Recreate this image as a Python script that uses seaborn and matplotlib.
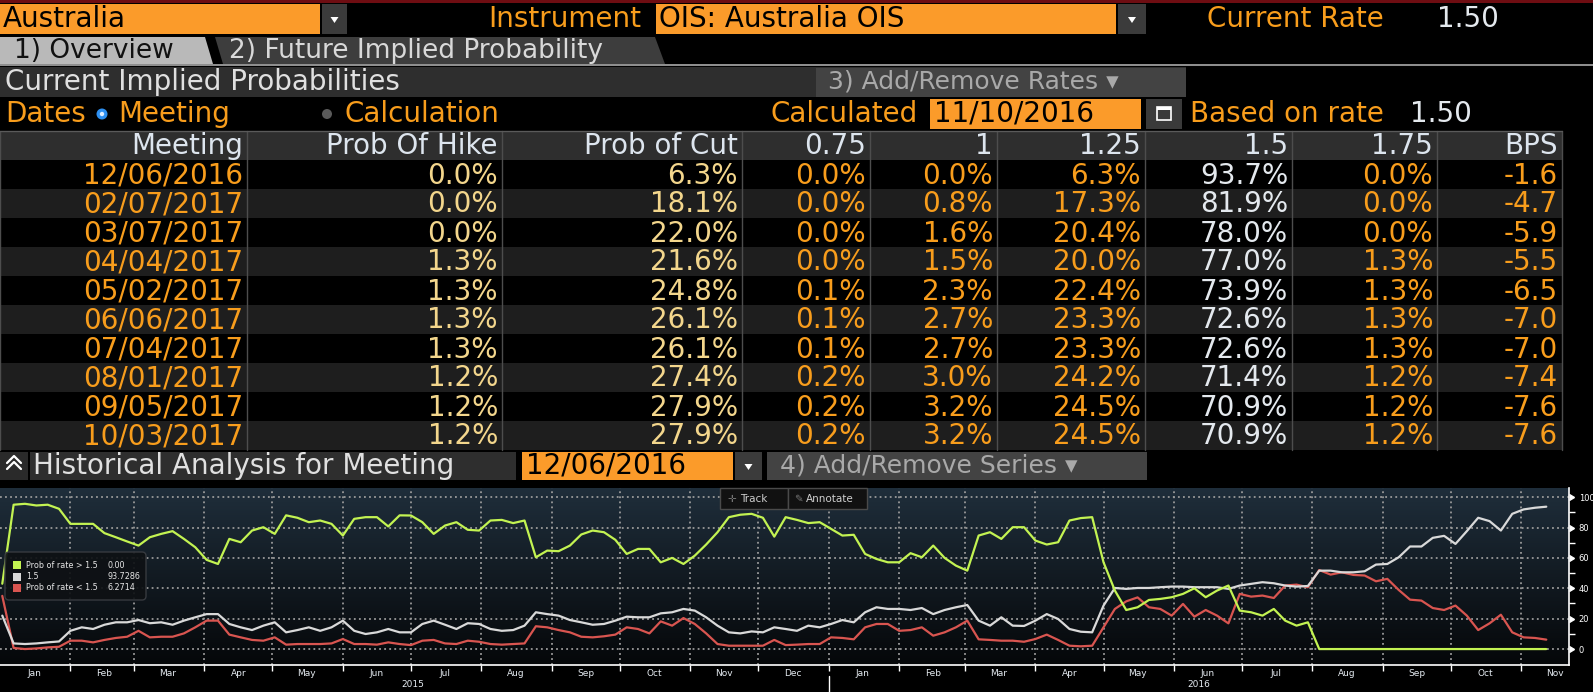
"""Bloomberg WIRP style screen: RBA implied probabilities + history chart."""
import numpy as np
import pandas as pd
import seaborn as sns
import matplotlib.pyplot as plt
from matplotlib.patches import Rectangle, Polygon, FancyBboxPatch, Circle
from matplotlib.transforms import blended_transform_factory
from matplotlib.colors import LinearSegmentedColormap

# ---------------------------------------------------------------- table data
meetings = ["12/06/2016", "02/07/2017", "03/07/2017", "04/04/2017", "05/02/2017",
            "06/06/2017", "07/04/2017", "08/01/2017", "09/05/2017", "10/03/2017"]
prob_hike = [0.0, 0.0, 0.0, 1.3, 1.3, 1.3, 1.3, 1.2, 1.2, 1.2]
prob_cut = [6.3, 18.1, 22.0, 21.6, 24.8, 26.1, 26.1, 27.4, 27.9, 27.9]
rate_075 = [0.0, 0.0, 0.0, 0.0, 0.1, 0.1, 0.1, 0.2, 0.2, 0.2]
rate_100 = [0.0, 0.8, 1.6, 1.5, 2.3, 2.7, 2.7, 3.0, 3.2, 3.2]
rate_125 = [6.3, 17.3, 20.4, 20.0, 22.4, 23.3, 23.3, 24.2, 24.5, 24.5]
rate_150 = [93.7, 81.9, 78.0, 77.0, 73.9, 72.6, 72.6, 71.4, 70.9, 70.9]
rate_175 = [0.0, 0.0, 0.0, 1.3, 1.3, 1.3, 1.3, 1.2, 1.2, 1.2]
bps = [-1.6, -4.7, -5.9, -5.5, -6.5, -7.0, -7.0, -7.4, -7.6, -7.6]
col_names = ["Meeting", "Prob Of Hike", "Prob of Cut", "0.75", "1", "1.25", "1.5", "1.75", "BPS"]

# ---------------------------------------------------------------- history data (every 5 days)
dates = pd.date_range("2015-01-02", periods=137, freq="5D")
prob_above = [43, 95.0, 95.6, 94.5, 95.0, 92.3, 82.4, 82.4, 82.4, 76.3,
              73.6, 70.8, 68.1, 73.6, 75.8, 77.6, 72.5, 67.0, 58.7, 56.0,
              72.5, 70.3, 78.0, 80.2, 75.8, 88.0, 86.4, 83.5, 84.6, 82.4,
              74.7, 85.7, 86.8, 86.8, 80.7, 88.0, 87.9, 83.5, 75.8, 81.3,
              83.5, 78.5, 78.0, 84.6, 85.0, 82.9, 84.6, 60.4, 64.8, 64.4,
              68.1, 75.4, 78.0, 76.9, 71.9, 62.6, 65.9, 65.9, 57.1, 60.0,
              56.0, 61.5, 68.8, 76.9, 86.8, 88.4, 89.0, 86.4, 74.0, 86.8,
              85.0, 82.9, 83.5, 79.1, 74.7, 75.2, 62.6, 59.3, 57.1, 57.1,
              63.1, 60.4, 68.1, 60.0, 54.9, 51.6, 74.7, 76.9, 72.5, 80.2,
              80.2, 71.4, 68.8, 70.3, 84.6, 86.2, 86.8, 57.1, 38.5, 25.7,
              27.5, 32.3, 33.0, 34.1, 36.3, 40.0, 34.1, 38.5, 41.8, 25.3,
              24.2, 22.0, 26.4, 18.7, 15.4, 17.6, 0, 0, 0, 0,
              0, 0, 0, 0, 0, 0, 0, 0, 0, 0,
              0, 0, 0, 0, 0, 0, 0]
prob_at = [22, 3.7, 3.3, 3.7, 4.4, 5.0, 12.0, 14.3, 13.2, 16.0,
           17.6, 17.6, 19.1, 17.0, 17.6, 16.0, 18.7, 20.9, 23.0, 23.0,
           16.5, 14.3, 12.5, 15.4, 17.6, 11.0, 12.5, 14.3, 12.0, 14.3,
           18.7, 12.0, 9.9, 11.0, 13.2, 11.0, 11.0, 16.5, 18.7, 16.0,
           13.2, 17.0, 16.5, 13.2, 12.0, 12.5, 15.4, 24.2, 23.0, 22.0,
           19.1, 17.6, 16.0, 16.5, 18.7, 21.3, 20.9, 20.9, 23.5, 24.2,
           26.4, 25.3, 20.9, 15.4, 11.0, 10.3, 11.6, 11.0, 14.3, 13.2,
           12.0, 15.4, 14.3, 16.5, 19.1, 17.6, 24.2, 27.5, 26.4, 26.4,
           25.7, 27.0, 23.0, 25.7, 27.5, 29.0, 18.7, 15.4, 20.9, 15.4,
           15.2, 18.7, 23.0, 19.8, 13.2, 11.4, 11.0, 28.6, 40.2, 39.6,
           40.2, 40.2, 40.7, 41.1, 41.1, 40.7, 40.7, 40.7, 39.6, 41.8,
           42.9, 44.0, 43.3, 41.8, 41.1, 41.5, 51.6, 51.6, 50.5, 50.5,
           51.2, 55.6, 56.0, 60.4, 67.5, 67.5, 73.2, 74.5, 69.2, 77.6,
           86.4, 84.2, 78.0, 89.0, 91.9, 93.0, 93.7]
prob_below = [35, 0.7, 0.0, 0.4, 1.1, 1.5, 5.5, 5.5, 4.4, 6.0,
              7.3, 8.1, 12.0, 7.7, 8.1, 8.1, 10.3, 14.3, 18.7, 18.7,
              9.5, 7.7, 6.0, 5.5, 7.7, 2.9, 3.3, 3.3, 3.3, 3.7,
              6.6, 3.3, 3.3, 2.9, 4.4, 3.3, 2.6, 5.5, 6.0, 3.7,
              3.3, 5.5, 4.8, 3.3, 2.9, 3.3, 3.7, 15.0, 14.3, 12.5,
              11.0, 8.1, 7.7, 8.4, 9.5, 14.3, 13.2, 10.3, 18.2, 15.4,
              20.4, 16.5, 10.3, 3.3, 2.2, 2.2, 2.2, 2.2, 6.0, 2.6,
              2.9, 3.3, 3.3, 7.7, 7.3, 6.4, 14.3, 16.5, 16.5, 12.0,
              12.5, 14.3, 8.8, 11.0, 14.3, 18.7, 6.4, 6.0, 5.5, 5.5,
              4.8, 6.6, 9.5, 6.0, 2.2, 1.8, 2.2, 14.3, 26.4, 31.4,
              34.0, 27.5, 26.4, 22.0, 29.7, 21.3, 25.7, 22.0, 16.9, 36.3,
              34.5, 35.2, 33.6, 41.8, 42.4, 40.7, 52.0, 49.0, 50.5, 48.8,
              48.4, 44.6, 46.2, 38.9, 32.5, 31.9, 27.0, 25.7, 28.6, 22.0,
              12.5, 16.9, 22.6, 11.0, 7.7, 7.3, 6.2]
series_names = ["Prob of rate > 1.5", "1.5", "Prob of rate < 1.5"]
legend_values = ["0.00", "93.7286", "6.2714"]

# ---------------------------------------------------------------- colours
ORANGE_BOX = "#fb9b2a"
AMBER = "#f89d1c"
CREAM = "#f3d68c"
LIGHT = "#e4e9ee"
GREY_BAR = "#2e2e2e"
BUTTON = "#434343"
palette = {"Prob of rate > 1.5": "#c3f352", "1.5": "#d9d9d9", "Prob of rate < 1.5": "#d95550"}

sns.set_theme(style="dark")
plt.rcParams["font.family"] = ["DejaVu Sans"]
plt.rcParams["patch.edgecolor"] = "none"

W, H = 1593, 692
fig = plt.figure(figsize=(W / 100, H / 100), dpi=100, facecolor="black")

scr = fig.add_axes([0, 0, 1, 1])
scr.set_xlim(0, W)
scr.set_ylim(H, 0)
scr.axis("off")


def box(ax, x0, y0, x1, y1, fc, ec="none", lw=0, z=1):
    ax.add_patch(Rectangle((x0, y0), x1 - x0, y1 - y0, facecolor=fc, edgecolor=ec, linewidth=lw, zorder=z))


def label(ax, x, y, s, color, size=20, ha="left", z=3):
    ax.text(x, y, s, color=color, fontsize=size, ha=ha, va="center", zorder=z)


def dropdown(ax, x0, y0, x1, y1):
    box(ax, x0, y0, x1, y1, "#3b3b3b")
    cx, cy = (x0 + x1) / 2, (y0 + y1) / 2
    ax.add_patch(Polygon([(cx - 4, cy - 2), (cx + 4, cy - 2), (cx, cy + 4)],
                         facecolor="white", edgecolor="none", zorder=2))


# --- row 1
box(scr, 0, 0, W, 3, "#6e0d12")
box(scr, 0, 4, 320, 34, ORANGE_BOX)
label(scr, 3, 19, "Australia", "black")
dropdown(scr, 322, 4, 347, 34)
label(scr, 641, 19, "Instrument", AMBER, ha="right")
box(scr, 656, 4, 1116, 34, ORANGE_BOX)
label(scr, 659, 19, "OIS: Australia OIS", "black")
dropdown(scr, 1118, 4, 1146, 34)
label(scr, 1207, 19, "Current Rate", AMBER)
label(scr, 1437, 19, "1.50", LIGHT)

# --- tabs
scr.add_patch(Polygon([(0, 37), (205, 37), (213, 64), (0, 64)], facecolor="#b9b9b9",
                      edgecolor="none", zorder=1))
label(scr, 14, 51, "1) Overview", "#111111", size=19)
scr.add_patch(Polygon([(215, 37), (655, 37), (665, 64), (223, 64)], facecolor="#3d3d3d",
                      edgecolor="none", zorder=1))
label(scr, 229, 51, "2) Future Implied Probability", "#d9d9d9", size=19)
box(scr, 0, 64, W, 66, "#8e8e8e")

# --- section bar
box(scr, 0, 67, 1186, 97, GREY_BAR)
label(scr, 5, 82, "Current Implied Probabilities", "#e0e0e0")
box(scr, 816, 68, 1186, 97, BUTTON, z=2)
label(scr, 828, 82, "3) Add/Remove Rates \u25be", "#a9a9a9", size=18)

# --- dates row
label(scr, 5, 114, "Dates", AMBER)
scr.add_patch(Circle((102, 114), 5.5, facecolor="#2d8ff0", edgecolor="none", zorder=2))
scr.add_patch(Circle((102, 114), 2.2, facecolor="#dfeeff", edgecolor="none", zorder=3))
label(scr, 118, 114, "Meeting", AMBER)
scr.add_patch(Circle((327, 114), 5, facecolor="#5a5a5a", edgecolor="none", zorder=2))
label(scr, 345, 114, "Calculation", AMBER)
label(scr, 918, 114, "Calculated", AMBER, ha="right")
box(scr, 930, 99, 1141, 129, ORANGE_BOX)
label(scr, 934, 114, "11/10/2016", "black")
box(scr, 1146, 99, 1182, 129, "#3a3a3a")
box(scr, 1157, 107, 1171, 120, "none", ec="white", lw=1.2, z=3)
box(scr, 1157, 107, 1171, 110, "white", z=3)
label(scr, 1190, 114, "Based on rate", AMBER)
label(scr, 1410, 114, "1.50", LIGHT)

# --- table
edges = [0, 247, 502, 742, 870, 997, 1145, 1292, 1437, 1562]
row_h = 29
top = 160
box(scr, 0, 131, edges[-1], top, GREY_BAR)
for i in range(len(meetings)):
    box(scr, 0, top + i * row_h, edges[-1], top + (i + 1) * row_h, "black" if i % 2 == 0 else "#1e1e1e")
for x in edges:
    scr.plot([x, x], [131, top + len(meetings) * row_h], color="#4d4d4d", lw=1, zorder=2)
scr.plot([0, edges[-1]], [131, 131], color="#5a5a5a", lw=1, zorder=2)
for j, name in enumerate(col_names):
    label(scr, edges[j + 1] - 4, 146, name, "#dde5ee", ha="right")

columns = [
    (meetings, AMBER, "{}"),
    (prob_hike, CREAM, "{:.1f}%"),
    (prob_cut, CREAM, "{:.1f}%"),
    (rate_075, AMBER, "{:.1f}%"),
    (rate_100, AMBER, "{:.1f}%"),
    (rate_125, AMBER, "{:.1f}%"),
    (rate_150, LIGHT, "{:.1f}%"),
    (rate_175, AMBER, "{:.1f}%"),
    (bps, AMBER, "{:.1f}"),
]
for j, (vals, color, fmt) in enumerate(columns):
    for i, v in enumerate(vals):
        label(scr, edges[j + 1] - 4, top + i * row_h + row_h / 2 + 1, fmt.format(v), color, ha="right")

# --- historical analysis bar
box(scr, 0, 452, 28, 480, "#2a2a2a")
for dy in (0, 6):
    scr.plot([7, 14, 21], [469 - dy, 462 - dy, 469 - dy], color="white", lw=1.6, zorder=3)
box(scr, 30, 452, 516, 480, GREY_BAR)
label(scr, 33, 466, "Historical Analysis for Meeting", "#e0e0e0")
box(scr, 522, 452, 733, 480, ORANGE_BOX)
label(scr, 526, 466, "12/06/2016", "black")
dropdown(scr, 735, 452, 762, 480)
box(scr, 767, 452, 1147, 480, BUTTON)
label(scr, 780, 466, "4) Add/Remove Series \u25be", "#a9a9a9", size=18)

# ---------------------------------------------------------------- chart
ax = fig.add_axes([0, 27 / H, 1569 / W, 177 / H])
grad = np.linspace(0, 1, 256).reshape(-1, 1)
bg = LinearSegmentedColormap.from_list("bg", ["#050709", "#1f2e3b"])
ax.imshow(grad, extent=[0, 1, 0, 1], transform=ax.transAxes, origin="lower",
          cmap=bg, aspect="auto", zorder=-1)

hist = pd.DataFrame({"date": dates, series_names[0]: prob_above,
                     series_names[1]: prob_at, series_names[2]: prob_below})
long = hist.melt("date", var_name="series", value_name="prob")
sns.lineplot(data=long, x="date", y="prob", hue="series", hue_order=series_names[::-1],
             palette=palette, linewidth=1.6, legend=False, ax=ax, zorder=3)

ax.set_xlim(pd.Timestamp("2015-01-01"), pd.Timestamp("2016-11-22"))
ax.set_ylim(-10.5, 106)
ax.set_xlabel("")
ax.set_ylabel("")
ax.set_facecolor("black")
for side in ("top", "left"):
    ax.spines[side].set_visible(False)
for side in ("bottom", "right"):
    ax.spines[side].set_visible(True)
    ax.spines[side].set_color("white")
    ax.spines[side].set_linewidth(1.2)

month_starts = pd.date_range("2015-02-01", "2016-11-01", freq="MS")
month_mids = pd.date_range("2015-01-01", "2016-11-01", freq="MS") + pd.Timedelta(days=15)
ax.set_xticks(month_starts)
ax.set_xticklabels([])
ax.set_xticks(month_mids, labels=[d.strftime("%b") for d in month_mids], minor=True)
ax.tick_params(axis="x", which="major", length=4, width=1, color="white", direction="out", bottom=True)
ax.tick_params(axis="x", which="minor", length=0, pad=3, labelsize=6.5, labelcolor="#e6ecf2")

ax.yaxis.tick_right()
ax.set_yticks([0, 20, 40, 60, 80, 100])
ax.set_yticks([10, 30, 50, 70, 90], minor=True)
ax.tick_params(axis="y", which="major", length=0, pad=7, labelsize=6, labelcolor="white", right=True)
ax.tick_params(axis="y", which="minor", length=4, width=1, color="white", direction="out", right=True)
ytr = blended_transform_factory(ax.transAxes, ax.transData)
ax.plot([1] * 6, [0, 20, 40, 60, 80, 100], transform=ytr, marker=9, markersize=5,
        color="white", linestyle="none", clip_on=False)

ax.grid(True, which="major", color="#9a9a9a", linestyle=(0, (1, 1.8)), linewidth=1.3)
ax.set_axisbelow(True)

xtr = blended_transform_factory(ax.transData, ax.transAxes)
ax.text(pd.Timestamp("2015-07-02"), -0.11, "2015", transform=xtr, ha="center", va="center",
        fontsize=6.5, color="#e6ecf2")
ax.text(pd.Timestamp("2016-06-12"), -0.11, "2016", transform=xtr, ha="center", va="center",
        fontsize=6.5, color="#e6ecf2")
ax.plot([pd.Timestamp("2016-01-01")] * 2, [-0.06, -0.16], transform=xtr, color="white",
        lw=1, clip_on=False)

# ---------------------------------------------------------------- overlay: legend + toolbar
ov = fig.add_axes([0, 0, 1, 1])
ov.set_xlim(0, W)
ov.set_ylim(H, 0)
ov.axis("off")
ov.patch.set_alpha(0)

ov.add_patch(FancyBboxPatch((5, 552), 141, 48, boxstyle="round,pad=0,rounding_size=4",
                            facecolor="#0e1114", edgecolor="#3a3d42", linewidth=1, alpha=0.92))
for i, (name, val) in enumerate(zip(series_names, legend_values)):
    y = 565 + i * 11.5
    ov.add_patch(Rectangle((13, y - 4), 8, 8, facecolor=palette[name], edgecolor="none"))
    ov.text(26, y, name, color="#e6e6e6", fontsize=5.8, va="center")
    ov.text(107, y, val, color="#e6e6e6", fontsize=5.8, va="center")

ov.add_patch(Rectangle((720, 488), 68, 21, facecolor="#111111", edgecolor="#4a4a4a", linewidth=1))
ov.add_patch(Rectangle((788, 488), 79, 21, facecolor="#111111", edgecolor="#4a4a4a", linewidth=1))
ov.text(727, 498.5, "\u271b", color="#777777", fontsize=7.5, va="center")
ov.text(740, 498.5, "Track", color="#cfcfcf", fontsize=7.5, va="center")
ov.text(794, 498.5, "\u270e", color="#777777", fontsize=7.5, va="center")
ov.text(806, 498.5, "Annotate", color="#cfcfcf", fontsize=7.5, va="center")

fig.savefig("out.png", dpi=100, facecolor="black")
